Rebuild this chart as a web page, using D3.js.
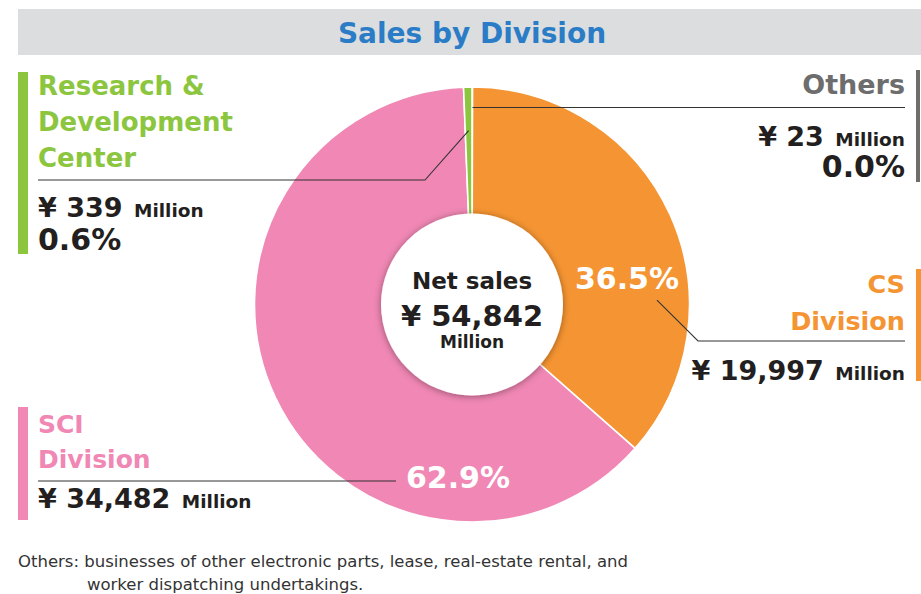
<!DOCTYPE html>
<html>
<head>
<meta charset="utf-8">
<script src="https://cdn.jsdelivr.net/npm/d3@7"></script>
<style>
  body { margin: 0; background: #fff; }
  svg text { font-family: "DejaVu Sans", Verdana, sans-serif; }
</style>
</head>
<body>
<div id="chart"></div>
<script>
const width = 921, height = 594;

// data
const divisions = ["Others", "CS Division", "SCI Division", "Research & Development Center"];
const sales = [23, 19997, 34482, 339];          // ¥ million
const shares = ["0.0%", "36.5%", "62.9%", "0.6%"];
const colors = ["#6d6d6d", "#f59432", "#f087b4", "#8cc63f"];
const totalLabel = "54,842";

const svg = d3.select("#chart").append("svg")
    .attr("width", width).attr("height", height);

const defs = svg.append("defs");
const f = defs.append("filter").attr("id", "shadow")
    .attr("x", "-20%").attr("y", "-20%").attr("width", "140%").attr("height", "140%");
f.append("feDropShadow").attr("dx", 0).attr("dy", 1).attr("stdDeviation", 3.5)
    .attr("flood-color", "#000").attr("flood-opacity", 0.4);

// title bar
svg.append("rect").attr("x", 18).attr("y", 9).attr("width", width - 18).attr("height", 46)
    .attr("fill", "#dcdddf");
svg.append("text").attr("x", 472).attr("y", 43).attr("text-anchor", "middle")
    .attr("font-size", 28).attr("font-weight", "bold").attr("fill", "#2a7cc6")
    .text("Sales by Division");

// pie
const cx = 472, cy = 304.5, R = 217.5;
const g = svg.append("g").attr("transform", `translate(${cx},${cy})`);
const pie = d3.pie().sort(null).value(d => d)(sales);
const arc = d3.arc().innerRadius(0).outerRadius(R);

g.selectAll("path.slice").data(pie).enter().append("path")
    .attr("class", "slice")
    .attr("d", arc)
    .attr("fill", (d, i) => colors[i])
    .attr("stroke", "#fff").attr("stroke-width", 1.6);

const polar = (a, r) => [Math.sin(a) * r, -Math.cos(a) * r];

// leader lines (relative to pie centre)
const line = d3.line();
const lead = (pts) => g.append("path").attr("d", line(pts))
    .attr("fill", "none").attr("stroke", "#333").attr("stroke-width", 1.1);

// R&D
const rdA = (pie[3].startAngle + pie[3].endAngle) / 2;
const rdP = polar(rdA, 174);
lead([rdP, [425 - cx, 180 - cy], [38 - cx, 180 - cy]]);
// Others
const otP = polar(pie[0].endAngle, 197);
lead([otP, [905 - cx, otP[1]]]);
// CS
const csP = polar(Math.PI / 2 * 0.985, 185);
lead([csP, [698 - cx, 341 - cy], [905 - cx, 341 - cy]]);
// SCI
lead([[396 - cx, 481 - cy], [38 - cx, 481 - cy]]);

// centre disc
g.append("circle").attr("r", 91).attr("fill", "#fff").attr("filter", "url(#shadow)");
const dark = "#231f20";
g.append("text").attr("y", -16).attr("text-anchor", "middle")
    .attr("font-size", 23).attr("font-weight", "bold").attr("fill", dark).text("Net sales");
g.append("text").attr("y", 21).attr("text-anchor", "middle")
    .attr("font-size", 29).attr("font-weight", "bold").attr("fill", dark).text("¥ " + totalLabel);
g.append("text").attr("y", 43).attr("text-anchor", "middle")
    .attr("font-size", 17).attr("font-weight", "bold").attr("fill", dark).text("Million");

// percentages inside slices
const pctPos = [null, [155, -16], [-14, 183], null];
pctPos.forEach((p, i) => {
  if (!p) return;
  g.append("text").attr("x", p[0]).attr("y", p[1]).attr("text-anchor", "middle")
    .attr("font-size", 30).attr("font-weight", "bold").attr("fill", "#fff").text(shares[i]);
});

// side labels
function amount(x, y, anchor, i) {
  const t = svg.append("text").attr("x", x).attr("y", y).attr("text-anchor", anchor)
      .attr("font-weight", "bold").attr("fill", dark);
  t.append("tspan").attr("font-size", 27).text("¥ " + d3.format(",")(sales[i]));
  t.append("tspan").attr("font-size", 18.5).attr("dx", 5).text(" Million");
}
function bigText(x, y, anchor, size, fill, txt) {
  svg.append("text").attr("x", x).attr("y", y).attr("text-anchor", anchor)
    .attr("font-size", size).attr("font-weight", "bold").attr("fill", fill).text(txt);
}

// R&D (left top)
svg.append("rect").attr("x", 18).attr("y", 72).attr("width", 10).attr("height", 182).attr("fill", colors[3]);
["Research &", "Development", "Center"].forEach((s, k) => bigText(38, 95 + k * 36, "start", 26, colors[3], s));
amount(38, 217, "start", 3);
bigText(38, 250, "start", 30, dark, shares[3]);

// Others (right top)
svg.append("rect").attr("x", 916).attr("y", 70).attr("width", 4).attr("height", 112).attr("fill", colors[0]);
bigText(905, 94, "end", 27, colors[0], "Others");
amount(905, 146, "end", 0);
bigText(905, 177, "end", 30, dark, shares[0]);

// CS (right middle)
svg.append("rect").attr("x", 916).attr("y", 269).attr("width", 5).attr("height", 112).attr("fill", colors[1]);
bigText(905, 293, "end", 25.5, colors[1], "CS");
bigText(905, 330, "end", 25.5, colors[1], "Division");
amount(905, 380, "end", 1);

// SCI (left bottom)
svg.append("rect").attr("x", 18).attr("y", 407).attr("width", 10).attr("height", 113).attr("fill", colors[2]);
bigText(38, 433, "start", 25, colors[2], "SCI");
bigText(38, 468, "start", 25, colors[2], "Division");
amount(38, 508, "start", 2);

// footnote
const note = svg.append("g").attr("font-size", 16.5).attr("fill", "#333");
note.append("text").attr("x", 18).attr("y", 567)
    .text("Others: businesses of other electronic parts, lease, real-estate rental, and");
note.append("text").attr("x", 87).attr("y", 590).text("worker dispatching undertakings.");
</script>
</body>
</html>
